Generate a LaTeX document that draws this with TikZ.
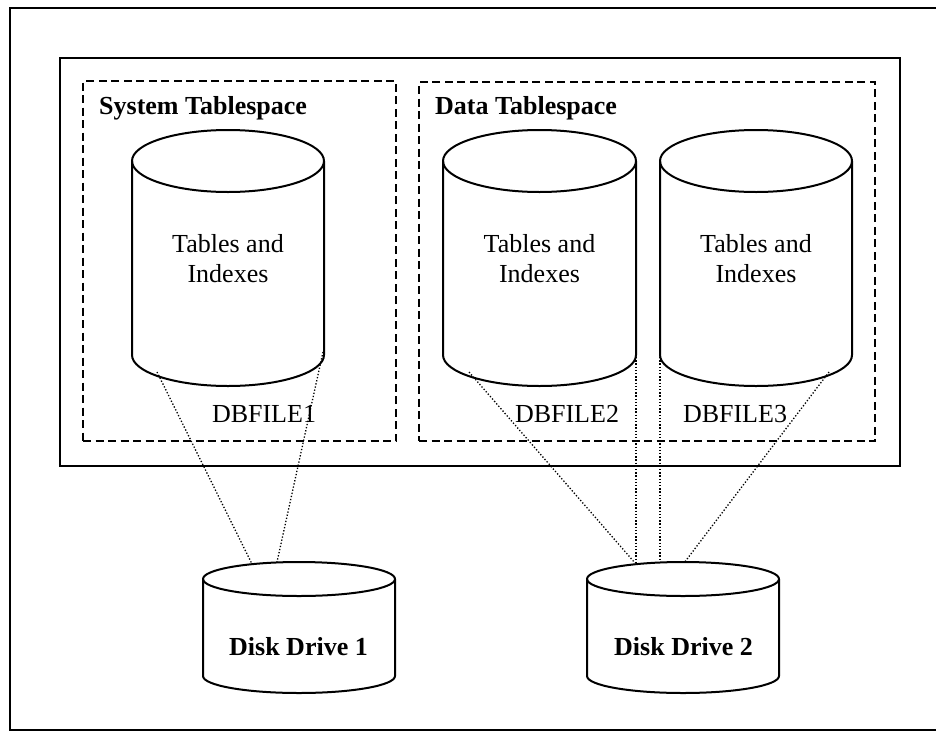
\documentclass[tikz,border=0pt]{standalone}
\usepackage{fontspec}
\setmainfont{Liberation Serif}
\tikzset{
  outline/.style={line width=2pt, line join=round},
  frameline/.style={draw, line width=2.6pt},
  boxline/.style={draw, line width=2pt},
  tsbox/.style={draw, line width=2pt, dash pattern=on 8pt off 4.5pt},
  link/.style={line width=1.3pt, dash pattern=on 1.3pt off 1.9pt},
  lbl/.style={font=\fontsize{26}{30}\selectfont, inner sep=0pt},
  blbl/.style={font=\fontsize{26}{30}\selectfont\bfseries, inner sep=0pt},
  % cylinder: #1 = x radius, #2 = y radius of the end ellipses, #3 = body height
  pics/drum/.style n args={3}{code={
    \draw[outline, fill=white] (0,0) ellipse [x radius=#1, y radius=#2];
    \draw[outline] ({-#1},0) -- ({-#1},#3)
      .. controls ({-#1},{#3+0.5523*#2}) and ({-0.5523*#1},{#3+#2}) .. (0,{#3+#2})
      .. controls ({0.5523*#1},{#3+#2}) and ({#1},{#3+0.5523*#2}) .. ({#1},#3)
      -- ({#1},0);
  }}
}
\begin{document}
\begin{tikzpicture}[x=1pt, y=-1pt]
  \useasboundingbox (0,0) rectangle (936,731);

  % outer frame (runs off the right edge of the page)
  \node[frameline, minimum width=940pt, minimum height=722pt, inner sep=0pt] (frame) at (480,369) {};

  % database container and the two tablespaces
  \node[boxline, minimum width=840pt, minimum height=408pt, inner sep=0pt] (db) at (480,262) {};
  \node[tsbox, minimum width=313pt, minimum height=360pt, inner sep=0pt] (sys) at (239.5,261) {};
  \node[tsbox, minimum width=456pt, minimum height=359pt, inner sep=0pt] (data) at (647,261.5) {};

  \node[blbl, anchor=base west] (systitle) at (99,114) {System Tablespace};
  \node[blbl, anchor=base west] (datatitle) at (435,114) {Data Tablespace};

  % data files
  \pic (f1) at (228,161) {drum={96}{31}{194}};
  \pic (f2) at (539.5,161) {drum={96.5}{31}{194}};
  \pic (f3) at (756,161) {drum={96}{31}{194}};

  \node[lbl, align=center] (t1) at (228,259) {Tables and\\Indexes};
  \node[lbl, align=center] (t2) at (539.5,259) {Tables and\\Indexes};
  \node[lbl, align=center] (t3) at (756,259) {Tables and\\Indexes};

  \node[lbl, anchor=base] (n1) at (264,422) {DBFILE1};
  \node[lbl, anchor=base] (n2) at (567,422) {DBFILE2};
  \node[lbl, anchor=base] (n3) at (735,422) {DBFILE3};

  % disk drives
  \pic (d1) at (299,579) {drum={96}{17}{97}};
  \pic (d2) at (683,579) {drum={96}{17}{97}};

  \node[blbl, anchor=base] (dd1) at (298.5,655) {Disk Drive 1};
  \node[blbl, anchor=base] (dd2) at (683.5,655) {Disk Drive 2};

  % attachment points of the file-to-disk links
  \coordinate (f1a) at (157,372);
  \coordinate (f1b) at (323,352);
  \coordinate (f2a) at (469,372);
  \coordinate (f2b) at (636,357);
  \coordinate (f3a) at (660,357);
  \coordinate (f3b) at (829,372);
  \coordinate (d1a) at (252,564);
  \coordinate (d1b) at (277,562);
  \coordinate (d2a) at (635,563);
  \coordinate (d2b) at (636,563);
  \coordinate (d2c) at (660,562);
  \coordinate (d2d) at (684,563);

  \draw[link] (f1a) -- (d1a);
  \draw[link] (f1b) -- (d1b);
  \draw[link] (f2a) -- (d2a);
  \draw[link] (f2b) -- (d2b);
  \draw[link] (f3a) -- (d2c);
  \draw[link] (f3b) -- (d2d);
\end{tikzpicture}
\end{document}
